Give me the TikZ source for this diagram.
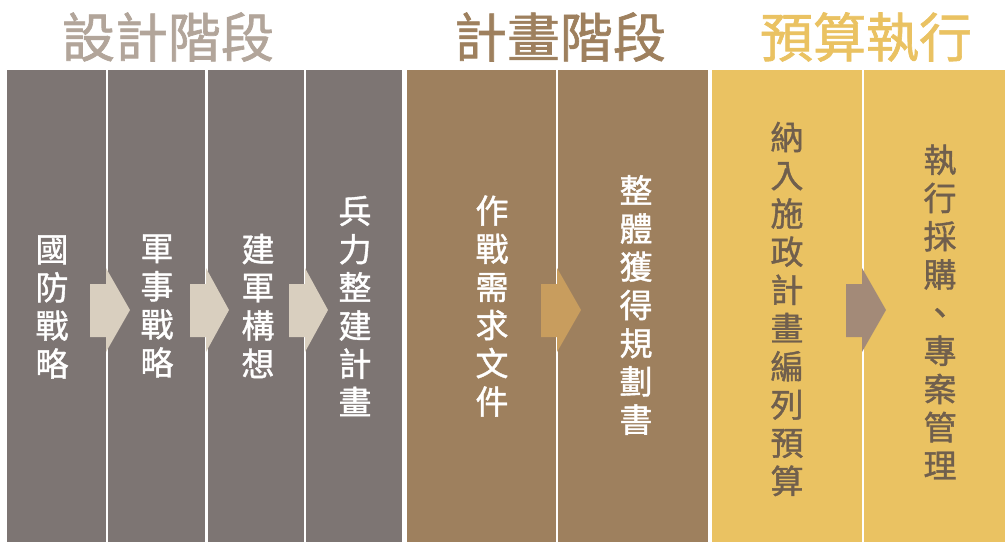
\documentclass[tikz,border=0pt]{standalone}
\usepackage{fontspec}
\newfontfamily\cjk{Noto Sans CJK TC}[FakeBold=1.2]
\definecolor{cgray}{HTML}{7D7573}
\definecolor{cbrown}{HTML}{9E805E}
\definecolor{cyellow}{HTML}{EAC262}
\definecolor{hgray}{HTML}{B2A59A}
\definecolor{abeige}{HTML}{D9CFBF}
\definecolor{abrown}{HTML}{C89D5E}
\definecolor{ataupe}{HTML}{A38A78}
\definecolor{tdark}{HTML}{705F4D}
\tikzset{
  header/.style={font=\cjk\fontsize{53}{56}\selectfont, inner sep=0pt, anchor=center},
  vtext/.style={font=\cjk\fontsize{33}{38.2}\selectfont, align=center, inner sep=0pt, anchor=center, text=white},
  vdark/.style={vtext, text=tdark},
}
\begin{document}
\begin{tikzpicture}[x=1pt,y=-1pt]
\useasboundingbox (0,0) rectangle (1005,542);
\fill[white] (0,0) rectangle (1005,542);
% columns
\fill[cgray] (7,70) rectangle (106,542);
\fill[cgray] (108,70) rectangle (205,542);
\fill[cgray] (208,70) rectangle (304,542);
\fill[cgray] (306,70) rectangle (402,542);
\fill[cbrown] (407,70) rectangle (556,542);
\fill[cbrown] (558,70) rectangle (708,542);
\fill[cyellow] (712,70) rectangle (862,542);
\fill[cyellow] (864,70) rectangle (1005,542);
% headers
\node[header, text=hgray] (h1) at (168,37) {設計階段};
\node[header, text=cbrown] (h2) at (560,37) {計畫階段};
\node[header, text=cyellow] (h3) at (866,37) {預算執行};
% arrows
\foreach \xa/\xb/\xc/\col in {90/106/130/abeige, 190/206/229/abeige, 289/305/328/abeige, 541/557/581/abrown, 846/862/886/ataupe}{
  \fill[\col] (\xa,284) -- (\xb,284) -- (\xb,268) -- (\xc,310) -- (\xb,352) -- (\xb,337) -- (\xa,337) -- cycle;
}
% texts
\node[vtext] (t1) at (52,307) {國\\防\\戰\\略};
\node[vtext] (t2) at (157,306) {軍\\事\\戰\\略};
\node[vtext] (t3) at (258,306) {建\\軍\\構\\想};
\node[vtext] (t4) at (355,306) {兵\\力\\整\\建\\計\\畫};
\node[vtext] (t5) at (492,306) {作\\戰\\需\\求\\文\\件};
\node[vtext] (t6) at (636,305) {整\\體\\獲\\得\\規\\劃\\書};
\node[vdark] (t7) at (787,309) {納\\入\\施\\政\\計\\畫\\編\\列\\預\\算};
\node[vdark] (t8) at (940,312) {執\\行\\採\\購\\、\\專\\案\\管\\理};
\end{tikzpicture}
\end{document}
